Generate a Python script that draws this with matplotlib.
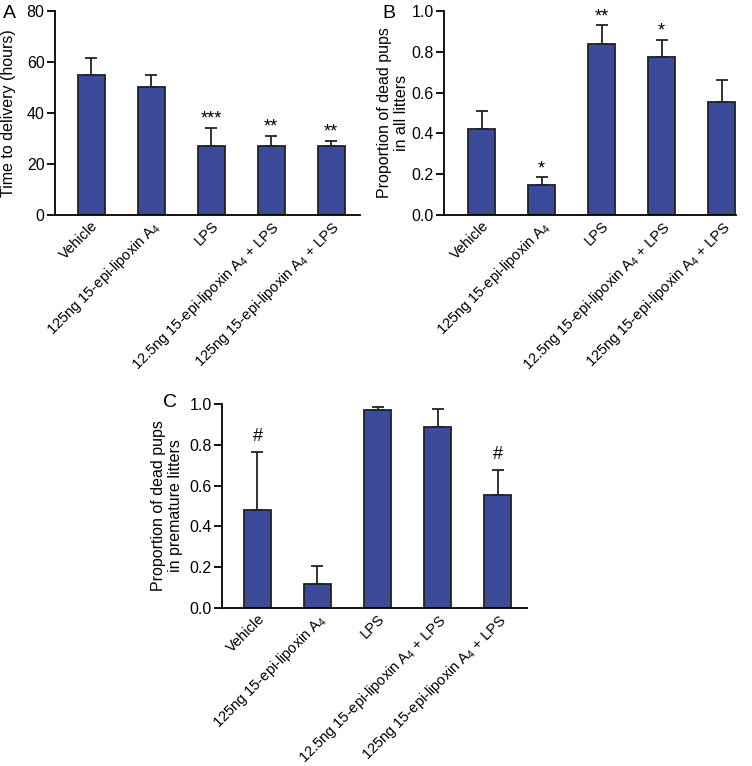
import matplotlib
matplotlib.use("Agg")
import matplotlib.pyplot as plt
import numpy as np

plt.rcParams['font.family'] = ['Liberation Sans', 'DejaVu Sans']
plt.rcParams['mathtext.fontset'] = 'custom'
plt.rcParams['mathtext.rm'] = 'Liberation Sans'
plt.rcParams['mathtext.it'] = 'Liberation Sans'

categories = ["Vehicle", "125ng 15-epi-lipoxin A$_{4}$", "LPS",
              "12.5ng 15-epi-lipoxin A$_{4}$ + LPS", "125ng 15-epi-lipoxin A$_{4}$ + LPS"]

a_mean = [55.0, 50.0, 27.0, 27.0, 27.0]
a_err = [6.5, 5.0, 7.0, 4.0, 2.0]
a_sig = ["", "", "***", "**", "**"]

b_mean = [0.42, 0.145, 0.84, 0.775, 0.555]
b_err = [0.09, 0.04, 0.09, 0.085, 0.105]
b_sig = ["", "*", "**", "*", ""]

c_mean = [0.48, 0.12, 0.97, 0.885, 0.555]
c_err = [0.285, 0.085, 0.015, 0.09, 0.12]
c_sig = ["#", "", "", "", "#"]

bar_color = "#3C4A9A"

fig = plt.figure(figsize=(7.52, 7.66), dpi=100)
W, H = 752, 766

def ax_px(l, r, t, b):
    return fig.add_axes([l / W, 1 - b / H, (r - l) / W, (b - t) / H])

def draw(ax, means, errs, sigs, ylim, yticks, fmt, ylabel, xlim, sig_off, sig_fs, lx):
    x = np.arange(len(means))
    ax.bar(x, means, width=0.45, color=bar_color, edgecolor="#222222", linewidth=1.3, zorder=2)
    ax.errorbar(x, means, yerr=[np.zeros(len(errs)), errs], fmt="none",
                ecolor="#222222", elinewidth=1.3, capsize=4, capthick=1.3, zorder=1)
    for xi, m, e, s in zip(x, means, errs, sigs):
        if s:
            ax.text(xi, m + e + sig_off, s, ha="center", va="bottom", fontsize=sig_fs)
    ax.set_xlim(*xlim)
    ax.set_ylim(*ylim)
    ax.set_yticks(yticks)
    ax.set_yticklabels([fmt.format(v) for v in yticks])
    ax.set_xticks(x)
    ax.set_xticklabels(categories, rotation=45, ha="right", rotation_mode="anchor", fontsize=10.5)
    ax.tick_params(axis="x", length=0, pad=2.5)
    ax.tick_params(axis="y", length=6, width=1.3, labelsize=11.5, direction="out", pad=1.5)
    for s in ["top", "right"]:
        ax.spines[s].set_visible(False)
    for s in ["left", "bottom"]:
        ax.spines[s].set_linewidth(1.3)
    ax.set_ylabel(ylabel, fontsize=11.5)
    ax.yaxis.set_label_coords(lx, 0.5)

axA = ax_px(55, 360, 11, 215)
draw(axA, a_mean, a_err, a_sig, (0, 80), [0, 20, 40, 60, 80], "{:.0f}",
     "Time to delivery (hours)", (-0.6, 4.48), 0.3, 13, (16 - 55) / 305)
axB = ax_px(444, 736, 11, 215)
draw(axB, b_mean, b_err, b_sig, (0, 1.0), [0, 0.2, 0.4, 0.6, 0.8, 1.0], "{:.1f}",
     "Proportion of dead pups\nin all litters", (-0.625, 4.24), 0.0, 13, (409 - 444) / 292)
axC = ax_px(222, 527, 404, 608)
draw(axC, c_mean, c_err, c_sig, (0, 1.0), [0, 0.2, 0.4, 0.6, 0.8, 1.0], "{:.1f}",
     "Proportion of dead pups\nin premature litters", (-0.59, 4.49), 0.035, 13, (183 - 222) / 305)

fig.text(3 / W, 1 - 18 / H, "A", fontsize=14, va="baseline")
fig.text(382 / W, 1 - 18 / H, "B", fontsize=14, va="baseline")
fig.text(163 / W, 1 - 407 / H, "C", fontsize=14, va="baseline")

fig.savefig("out.png", dpi=100)
